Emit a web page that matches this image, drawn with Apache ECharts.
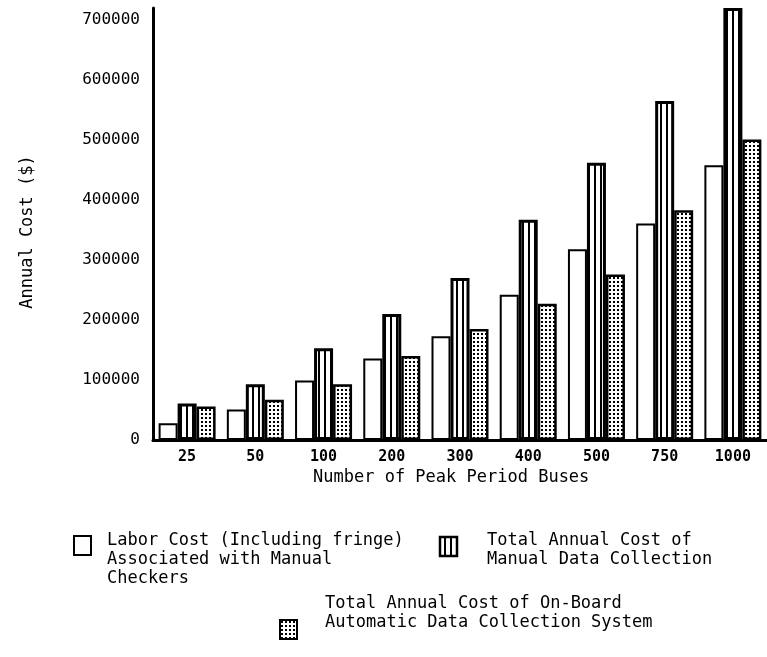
<!DOCTYPE html>
<html>
<head>
<meta charset="utf-8">
<script src="https://cdn.jsdelivr.net/npm/echarts@6/dist/echarts.min.js"></script>
<style>
  html, body { margin: 0; padding: 0; background: #fff; }
  #main { width: 767px; height: 657px; }
</style>
</head>
<body>
<div id="main"></div>
<script>
// categories: number of peak period buses
const buses = ['25', '50', '100', '200', '300', '400', '500', '750', '1000'];
// annual cost in dollars
const laborCost = [28000, 51000, 99000, 136000, 173000, 242000, 318000, 361000, 458000];
const manualCost = [61000, 93000, 153000, 210000, 270000, 367000, 462000, 565000, 720000];
const onBoardCost = [56000, 67000, 93000, 140000, 185000, 227000, 276000, 383000, 501000];

const seriesNames = [
  'Labor Cost (Including fringe)\nAssociated with Manual\nCheckers',
  'Total Annual Cost of\nManual Data Collection',
  'Total Annual Cost of On-Board\nAutomatic Data Collection System'
];

const FONT = '"DejaVu Sans Mono", "Liberation Mono", monospace';

// vertical stripes fill
function stripeCanvas() {
  const c = document.createElement('canvas');
  c.width = 6; c.height = 6;
  const ctx = c.getContext('2d');
  ctx.fillStyle = '#fff';
  ctx.fillRect(0, 0, 6, 6);
  ctx.fillStyle = '#000';
  ctx.fillRect(0, 0, 2, 6);
  return c;
}
// dotted fill
function dotCanvas() {
  const c = document.createElement('canvas');
  c.width = 4; c.height = 4;
  const ctx = c.getContext('2d');
  ctx.fillStyle = '#fff';
  ctx.fillRect(0, 0, 4, 4);
  ctx.fillStyle = '#000';
  ctx.fillRect(1, 1, 2, 2);
  return c;
}
const stripes = { image: stripeCanvas(), repeat: 'repeat' };
const dots = { image: dotCanvas(), repeat: 'repeat' };

const chart = echarts.init(document.getElementById('main'));

const option = {
  backgroundColor: '#fff',
  animation: false,
  grid: { left: 153, top: 8, width: 621, height: 432 },
  xAxis: {
    type: 'category',
    data: buses,
    axisLine: { lineStyle: { color: '#000', width: 3 } },
    axisTick: { show: false },
    axisLabel: { color: '#000', fontFamily: FONT, fontSize: 15, fontWeight: 'bold', margin: 10 }
  },
  yAxis: {
    type: 'value',
    min: 0,
    max: 720000,
    interval: 100000,
    axisLine: { show: true, lineStyle: { color: '#000', width: 3 } },
    axisTick: { show: false },
    splitLine: { show: false },
    axisLabel: {
      color: '#000', fontFamily: FONT, fontSize: 16, margin: 13, showMaxLabel: false,
      formatter: function (v) { return String(v); }
    }
  },
  series: [
    {
      name: seriesNames[0],
      type: 'bar',
      data: laborCost,
      barWidth: 19,
      barGap: '0%',
      itemStyle: { color: '#fff', borderColor: '#000', borderWidth: 2 }
    },
    {
      name: seriesNames[1],
      type: 'bar',
      data: manualCost,
      barWidth: 19,
      barGap: '0%',
      itemStyle: { color: stripes, borderColor: '#000', borderWidth: 3 }
    },
    {
      name: seriesNames[2],
      type: 'bar',
      data: onBoardCost,
      barWidth: 19,
      barGap: '0%',
      itemStyle: { color: dots, borderColor: '#000', borderWidth: 2.5 }
    }
  ],
  graphic: [
    // axis titles
    {
      type: 'text', x: 28, y: 232, rotation: Math.PI / 2,
      style: { text: 'Annual Cost ($)', fill: '#000', font: '17px ' + FONT, align: 'center', verticalAlign: 'middle' }
    },
    {
      type: 'text', left: 313, top: 469,
      style: { text: 'Number of Peak Period Buses', fill: '#000', font: '17px ' + FONT }
    },
    // legend
    {
      type: 'rect', shape: { x: 74, y: 536, width: 17, height: 19 },
      style: { fill: '#fff', stroke: '#000', lineWidth: 2 }
    },
    {
      type: 'text', left: 107, top: 531,
      style: { text: seriesNames[0], fill: '#000', font: '17px ' + FONT, lineHeight: 19 }
    },
    {
      type: 'rect', shape: { x: 440, y: 537, width: 17, height: 19 },
      style: { fill: stripes, stroke: '#000', lineWidth: 2.5 }
    },
    {
      type: 'text', left: 487, top: 531,
      style: { text: seriesNames[1], fill: '#000', font: '17px ' + FONT, lineHeight: 19 }
    },
    {
      type: 'rect', shape: { x: 280, y: 620, width: 17, height: 19 },
      style: { fill: dots, stroke: '#000', lineWidth: 2 }
    },
    {
      type: 'text', left: 325, top: 594,
      style: { text: seriesNames[2], fill: '#000', font: '17px ' + FONT, lineHeight: 19 }
    }
  ]
};

chart.setOption(option);
</script>
</body>
</html>
